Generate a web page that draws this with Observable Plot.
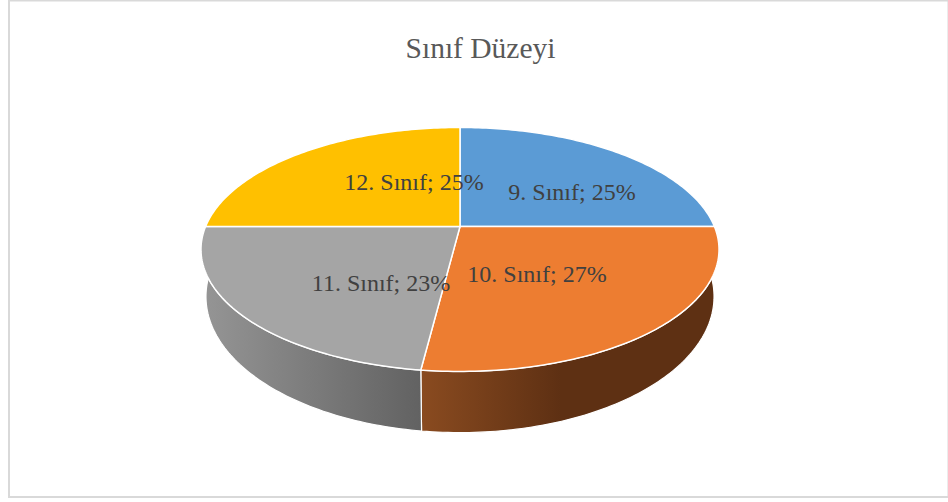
<!DOCTYPE html>
<html><head><meta charset="utf-8">
<style>html,body{margin:0;padding:0;background:#fff}svg{display:block}</style>
<script src="https://cdn.jsdelivr.net/npm/d3@7"></script>
<script src="https://cdn.jsdelivr.net/npm/@observablehq/plot@0.6"></script>
</head><body><div id="chart"></div>
<script>
// Data
const categories = ["9. Sınıf", "10. Sınıf", "11. Sınıf", "12. Sınıf"];
const percents = [25, 27, 23, 25];
const faceColors = ["#5b9bd5", "#ed7d31", "#a5a5a5", "#ffc000"];
const titleText = "Sınıf Düzeyi";

// Layout (px space of the scales)
const W = 948, H = 502;
const tilt = 0.188;
const topFace = {cx: 459.5, cy: 226, rx: 254.4, ry: 117.7};
const baseFace = {cx: 459.5, cy: 270.5, rx: 249.5, ry: 131.2};
const labelOffsets = [[112, -34], [77, 48], [-79, 57], [-46, -44]];

const project = (f, deg) => {
  const t = deg * Math.PI / 180, d = 1 + tilt * Math.cos(t);
  return {x: f.cx + f.rx * Math.sin(t) / d, y: f.cy - f.ry * Math.cos(t) / d};
};
const arc = (f, a, b) => {
  const n = Math.max(2, Math.ceil(Math.abs(b - a)));
  return d3.range(n + 1).map(i => project(f, a + (b - a) * i / n));
};

let acc = 0;
const slices = categories.map((name, i) => {
  const start = acc * 3.6; acc += percents[i];
  return {name, pct: percents[i], start, end: acc * 3.6, color: faceColors[i]};
});

const wallFill = ["none", "url(#wall10)", "url(#wall11)", "none"];
const walls = slices
  .map((s, i) => ({s, fill: wallFill[i]}))
  .filter(d => d.fill !== "none")
  .map(({s, fill}) => Plot.line(
    [...arc(topFace, s.start, s.end), ...arc(baseFace, s.end, s.start)],
    {x: "x", y: "y", fill, stroke: "#fff", strokeWidth: 1.2, curve: "linear-closed"}));

const faces = slices.map(s => Plot.line(
  [{x: topFace.cx, y: topFace.cy}, ...arc(topFace, s.start, s.end)],
  {x: "x", y: "y", fill: s.color, stroke: "#fff", strokeWidth: 1.5, strokeLinejoin: "round", curve: "linear-closed"}));

const defs = () => {
  const ns = "http://www.w3.org/2000/svg";
  const d = document.createElementNS(ns, "defs");
  const grads = [
    ["wall10", 420, 560, "#8a4b20", "#5e3013"],
    ["wall11", 203, 420, "#959595", "#626262"]
  ];
  for (const [id, x1, x2, c1, c2] of grads) {
    const g = document.createElementNS(ns, "linearGradient");
    g.setAttribute("id", id);
    g.setAttribute("gradientUnits", "userSpaceOnUse");
    g.setAttribute("x1", x1); g.setAttribute("x2", x2);
    g.setAttribute("y1", 0); g.setAttribute("y2", 0);
    [[0, c1], [1, c2]].forEach(([o, c]) => {
      const st = document.createElementNS(ns, "stop");
      st.setAttribute("offset", o); st.setAttribute("stop-color", c);
      g.appendChild(st);
    });
    d.appendChild(g);
  }
  return d;
};

const labels = slices.map((s, i) => ({
  text: `${s.name}; ${s.pct}%`,
  x: topFace.cx + labelOffsets[i][0],
  y: topFace.cy + labelOffsets[i][1]
}));

const chart = Plot.plot({
  width: W, height: H,
  margin: 0,
  style: {background: "#fff"},
  x: {domain: [0, W], range: [0, W], axis: null},
  y: {domain: [0, H], range: [0, H], axis: null},
  marks: [
    defs,
    Plot.frame({stroke: "#d9d9d9", strokeWidth: 2, insetLeft: 8.5, insetBottom: 5.5, insetTop: 0, insetRight: 0}),
    ...walls,
    ...faces,
    Plot.text(labels, {x: "x", y: "y", text: "text", fontFamily: "Liberation Serif", fontSize: 24, fill: "#404040"}),
    Plot.text([titleText], {frameAnchor: "top", dy: 37, dx: 6, fontFamily: "Liberation Serif", fontSize: 29.5, fill: "#595959"})
  ]
});
document.getElementById("chart").appendChild(chart);
</script></body></html>
